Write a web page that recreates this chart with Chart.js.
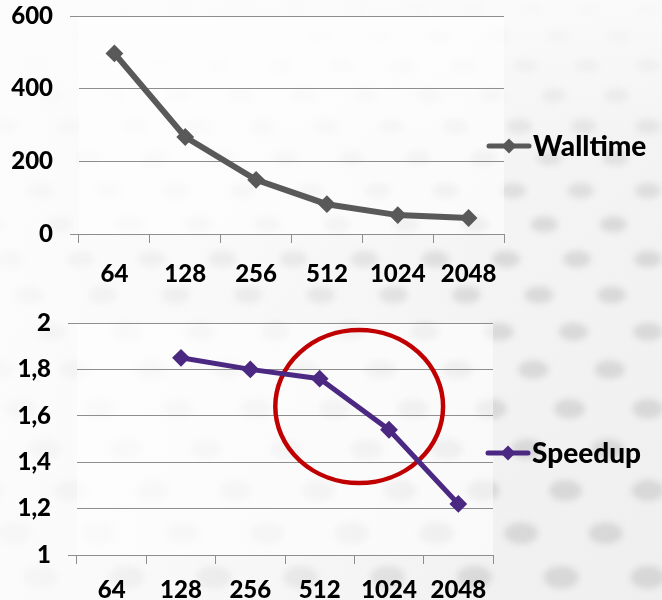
<!DOCTYPE html>
<html>
<head>
<meta charset="utf-8">
<script src="https://cdn.jsdelivr.net/npm/chart.js@4.4.0/dist/chart.umd.min.js"></script>
<style>
  html, body { margin: 0; padding: 0; width: 662px; height: 600px; overflow: hidden; background: #f5f5f5; }
  #bg { position: absolute; left: 0; top: 0; }
  .box { position: absolute; left: 0; width: 662px; height: 300px; }
  #topBox { top: 0; }
  #bottomBox { top: 300px; }
</style>
</head>
<body>
<canvas id="bg" width="662" height="600"></canvas>
<div class="box" id="topBox"><canvas id="wallChart"></canvas></div>
<div class="box" id="bottomBox"><canvas id="speedChart"></canvas></div>
<script>
// Number of cores on the x axis
const cores = ['64', '128', '256', '512', '1024', '2048'];
// Wall-clock time per run
const walltime = [497, 267, 149, 82, 52, 44];
// Speedup relative to the previous core count (no value for the first one)
const speedup = [null, 1.85, 1.80, 1.76, 1.54, 1.22];
// Axis ranges: min, max, step
const walltimeRange = [0, 600, 200];
const speedupRange = [1, 2, 0.2];
// Highlight ring around the drop-off: centre (category position, value) and radii
const ringCentre = [3.57, 1.64];
const ringRadius = [1.21, 0.33];

const FONT = 'Lato, "Open Sans", sans-serif';
const WEIGHT = '900';
const GRID = '#8e8e8e';

// --- soft dotted backdrop (perspective grid of blurred dots) ---
(function drawBackdrop() {
  const c = document.getElementById('bg').getContext('2d');
  const g = c.createLinearGradient(0, 0, 662, 600);
  g.addColorStop(0, '#fcfcfc');
  g.addColorStop(0.5, '#f5f5f5');
  g.addColorStop(1, '#efefef');
  c.fillStyle = g;
  c.fillRect(0, 0, 662, 600);
  c.filter = 'blur(3px)';
  let y = 8, row = 0;
  while (y < 640) {
    const sx = 58 + y * 0.05;
    const w = 22 + y * 0.022, h = 12 + y * 0.018;
    const a = Math.min(0.32, 0.06 + y / 900);
    c.fillStyle = 'rgba(165,165,165,' + a.toFixed(3) + ')';
    for (let x = 662 - (row % 2 ? sx / 2 : 0) - 14; x > -40; x -= sx) {
      c.beginPath();
      c.ellipse(x, y, w / 2, h / 2, 0, 0, Math.PI * 2);
      c.fill();
    }
    y += 28 + y * 0.03;
    row++;
  }
  c.filter = 'none';
  // fade the pattern out towards the left and the top
  const fadeX = c.createLinearGradient(0, 0, 500, 0);
  fadeX.addColorStop(0, 'rgba(252,252,252,0.85)');
  fadeX.addColorStop(0.6, 'rgba(250,250,250,0.45)');
  fadeX.addColorStop(1, 'rgba(250,250,250,0)');
  c.fillStyle = fadeX;
  c.fillRect(0, 0, 662, 600);
  const fadeY = c.createLinearGradient(0, 0, 0, 140);
  fadeY.addColorStop(0, 'rgba(252,252,252,0.7)');
  fadeY.addColorStop(1, 'rgba(252,252,252,0)');
  c.fillStyle = fadeY;
  c.fillRect(0, 0, 662, 140);
})();

// Pale wash over the plotting area
const plotWash = {
  id: 'plotWash',
  beforeDraw(chart) {
    const { ctx, chartArea: a } = chart;
    ctx.save();
    ctx.fillStyle = 'rgba(255,255,255,0.55)';
    ctx.fillRect(a.left, a.top, a.width, a.height);
    ctx.restore();
  }
};

// Legend drawn at the right of the plot: line + diamond + bold label
const sideLegend = {
  id: 'sideLegend',
  afterDraw(chart, args, opts) {
    const { ctx, chartArea } = chart;
    const ds = chart.data.datasets[0];
    const x0 = chartArea.right + opts.dx;
    const y = chartArea.top + chartArea.height * opts.fy;
    ctx.save();
    ctx.strokeStyle = ds.borderColor;
    ctx.fillStyle = ds.borderColor;
    ctx.lineWidth = 5;
    ctx.lineCap = 'round';
    ctx.beginPath();
    ctx.moveTo(x0, y);
    ctx.lineTo(x0 + 40, y);
    ctx.stroke();
    const cx = x0 + 20, r = 7.5;
    ctx.beginPath();
    ctx.moveTo(cx, y - r); ctx.lineTo(cx + r, y); ctx.lineTo(cx, y + r); ctx.lineTo(cx - r, y);
    ctx.closePath();
    ctx.fill();
    ctx.fillStyle = '#000';
    ctx.font = WEIGHT + ' 28px ' + FONT;
    ctx.textBaseline = 'middle';
    ctx.fillText(ds.label, x0 + 44, y + 1);
    ctx.restore();
  }
};

// Red ring placed in data coordinates
const ring = {
  id: 'ring',
  beforeDatasetsDraw(chart, args, opts) {
    if (!opts.show) return;
    const { ctx, scales: { x, y } } = chart;
    const i = Math.floor(ringCentre[0]), f = ringCentre[0] - i;
    const step = x.getPixelForValue(1) - x.getPixelForValue(0);
    const px = x.getPixelForValue(i) + f * step;
    const py = y.getPixelForValue(ringCentre[1]);
    const rx = ringRadius[0] * step;
    const ry = Math.abs(y.getPixelForValue(ringCentre[1] + ringRadius[1]) - py);
    ctx.save();
    ctx.strokeStyle = '#c00000';
    ctx.lineWidth = 4.5;
    ctx.beginPath();
    ctx.ellipse(px, py, rx, ry, 0, 0, Math.PI * 2);
    ctx.stroke();
    ctx.restore();
  }
};

function fmtComma(v) {
  const r = Math.round(v * 1000) / 1000;
  return Number.isInteger(r) ? String(r) : r.toFixed(1).replace('.', ',');
}

// box: y-axis width, x-axis height, label gap, top/right padding
function makeChart(id, label, values, color, lineW, range, box, legendPos, showRing) {
  const nTicks = Math.round((range[1] - range[0]) / range[2]);
  return new Chart(document.getElementById(id), {
    type: 'line',
    data: {
      labels: cores,
      datasets: [{
        label: label,
        data: values,
        borderColor: color,
        backgroundColor: color,
        borderWidth: lineW,
        pointStyle: 'rectRot',
        pointRadius: 7.5,
        pointBorderWidth: 2,
        pointBackgroundColor: color,
        pointBorderColor: color,
        tension: 0,
        spanGaps: false
      }]
    },
    options: {
      responsive: true,
      maintainAspectRatio: false,
      animation: false,
      layout: { padding: { left: 0, right: box.right, top: box.top, bottom: 0 } },
      plugins: {
        legend: { display: false },
        tooltip: { enabled: false },
        sideLegend: legendPos,
        ring: { show: showRing }
      },
      scales: {
        x: {
          offset: true,
          afterFit: (s) => { s.height = box.xHeight; s.paddingLeft = 0; s.paddingRight = 0; },
          grid: {
            offset: true,
            drawOnChartArea: false,
            drawTicks: true,
            tickLength: 9,
            tickColor: GRID,
            color: GRID
          },
          border: { display: true, color: GRID, width: 1 },
          ticks: {
            color: '#000',
            font: { family: FONT, size: 24, weight: WEIGHT },
            padding: box.xGap,
            maxRotation: 0
          }
        },
        y: {
          min: range[0],
          max: range[1],
          afterFit: (s) => { s.width = box.yWidth; s.paddingTop = 0; s.paddingBottom = 0; },
          grid: {
            color: GRID,
            lineWidth: 1,
            drawTicks: true,
            tickLength: 9,
            tickColor: (c) => (c.index === 0 || c.index === nTicks) ? GRID : 'rgba(0,0,0,0)'
          },
          border: { display: false },
          ticks: {
            stepSize: range[2],
            color: '#000',
            font: { family: FONT, size: 24, weight: WEIGHT },
            padding: 17,
            callback: (v) => fmtComma(v)
          }
        }
      }
    },
    plugins: [plotWash, sideLegend, ring]
  });
}

makeChart('wallChart', 'Walltime', walltime, '#595959', 6, walltimeRange,
  { yWidth: 79, xHeight: 66, xGap: 17, top: 16, right: 158 },
  { dx: -15, fy: 0.596 }, false);

makeChart('speedChart', 'Speedup', speedup, '#4b2882', 5, speedupRange,
  { yWidth: 77, xHeight: 45, xGap: 12, top: 23, right: 169 },
  { dx: -5, fy: 0.56 }, true);
</script>
</body>
</html>
